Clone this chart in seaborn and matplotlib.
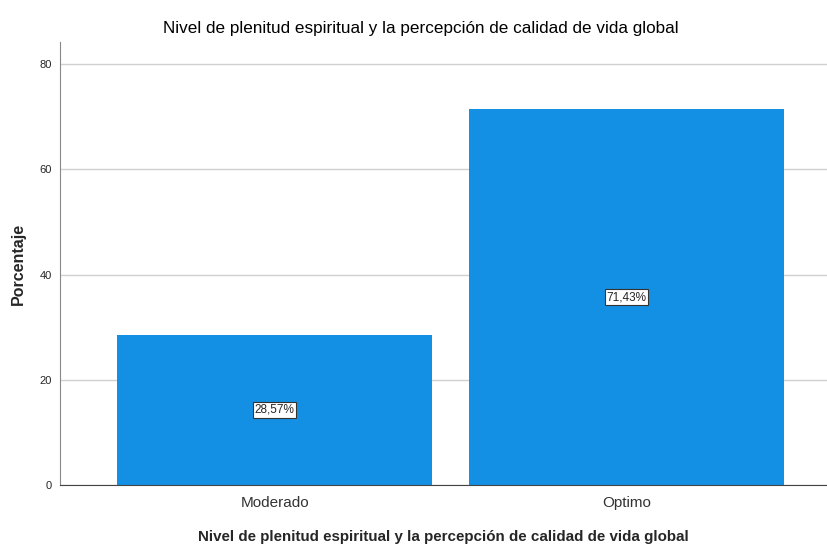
import pandas as pd
import matplotlib
matplotlib.use("Agg")
import matplotlib.pyplot as plt
import seaborn as sns

categories = ["Moderado", "Optimo"]
percentages = [28.57, 71.43]
labels = ["28,57%", "71,43%"]
title = "Nivel de plenitud espiritual y la percepción de calidad de vida global"

sns.set_style("white")
plt.rcParams["font.family"] = ["Liberation Sans", "DejaVu Sans"]

df = pd.DataFrame({"categoria": categories, "porcentaje": percentages})

fig = plt.figure(figsize=(8.27, 5.47), dpi=100)
ax = fig.add_axes([0.0726, 0.1133, 0.9274, 0.81])

sns.barplot(
    data=df,
    x="categoria",
    y="porcentaje",
    color="#1390e3",
    saturation=1,
    width=0.895,
    linewidth=0,
    ax=ax,
)

# grid only on y
ax.set_ylim(0, 84.2)
ax.set_xlim(-0.61, 1.57)
ax.set_yticks([0, 20, 40, 60, 80])
ax.yaxis.grid(True, color="#d0d0d0", linewidth=1)
ax.set_axisbelow(True)
for side in ["top", "right"]:
    ax.spines[side].set_visible(False)
ax.spines["left"].set_color("#888888")
ax.spines["bottom"].set_color("#444444")
ax.tick_params(axis="y", length=0, labelsize=8, pad=6)
ax.tick_params(axis="x", length=0, labelsize=11, pad=8, colors="#333333")

for i, (v, lab) in enumerate(zip(percentages, labels)):
    ax.text(
        i, v / 2, lab,
        ha="center", va="center", fontsize=8.5,
        bbox=dict(facecolor="white", edgecolor="#333333", boxstyle="square,pad=0.15", linewidth=0.8),
    )

fig.text(0.509, 1 - 28 / 547, title, ha="center", va="center", fontsize=12.3, color="black")
ax.set_xlabel(title, fontsize=10.9, fontweight="bold", labelpad=14)
ax.set_ylabel("Porcentaje", fontsize=11.5, fontweight="bold", labelpad=10)

fig.savefig("out.png", dpi=100)
